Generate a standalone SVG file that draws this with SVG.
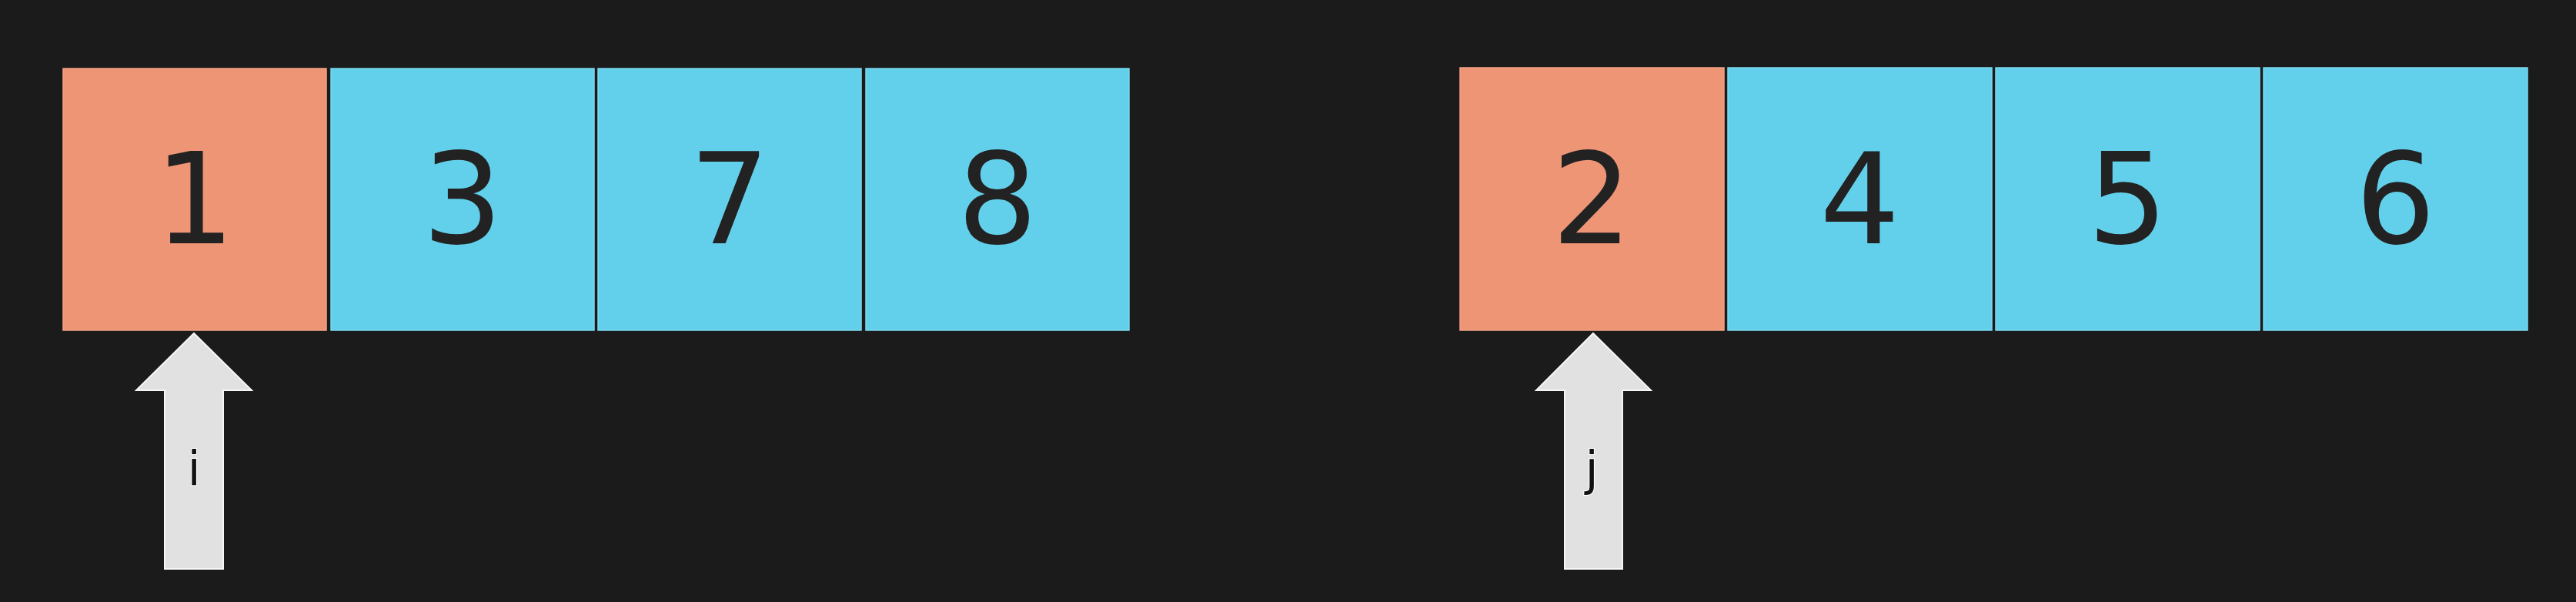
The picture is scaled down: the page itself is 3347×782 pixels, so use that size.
<svg xmlns="http://www.w3.org/2000/svg" width="3347" height="782" viewBox="0 0 3347 782">
<style>
.hot{fill:#ee9576;stroke:#f3a385;stroke-width:1.5}
.cell{fill:#63d0eb;stroke:#7cd9ef;stroke-width:1.5}
.num{font-family:"DejaVu Sans",sans-serif;font-size:164px;fill:#222222;text-anchor:middle}
.ptr{fill:#e1e1e1;stroke:#f6f6f6;stroke-width:2}
.lbl{font-family:"DejaVu Sans",sans-serif;font-size:62px;fill:#111111;text-anchor:middle;stroke:#ffffff;stroke-width:2;paint-order:stroke}
</style>
<rect width="3347" height="782" fill="#1b1b1b"/>
<g id="a0"><rect class="hot" x="82" y="89" width="342" height="340"/><text class="num" x="253" y="316">1</text></g>
<g id="a1"><rect class="cell" x="430" y="89" width="342" height="340"/><text class="num" x="601" y="316">3</text></g>
<g id="a2"><rect class="cell" x="777" y="89" width="342" height="340"/><text class="num" x="948" y="316">7</text></g>
<g id="a3"><rect class="cell" x="1125" y="89" width="342" height="340"/><text class="num" x="1296" y="316">8</text></g>
<g id="b0"><rect class="hot" x="1897" y="88" width="343" height="341"/><text class="num" x="2068.5" y="316">2</text></g>
<g id="b1"><rect class="cell" x="2245" y="88" width="343" height="341"/><text class="num" x="2416.5" y="316">4</text></g>
<g id="b2"><rect class="cell" x="2593" y="88" width="343" height="341"/><text class="num" x="2764.5" y="316">5</text></g>
<g id="b3"><rect class="cell" x="2941" y="88" width="343" height="341"/><text class="num" x="3112.5" y="316">6</text></g>
<g id="connectors">
<g id="ptr-i"><polygon class="ptr" points="252,433 327,507 290,507 290,739 214,739 214,507 177,507"/><text class="lbl" x="252" y="630">i</text></g>
<g id="ptr-j"><polygon class="ptr" points="2070,433 2145,507 2108,507 2108,739 2033,739 2033,507 1996,507"/><text class="lbl" x="2068" y="630">j</text></g>
</g>
</svg>
